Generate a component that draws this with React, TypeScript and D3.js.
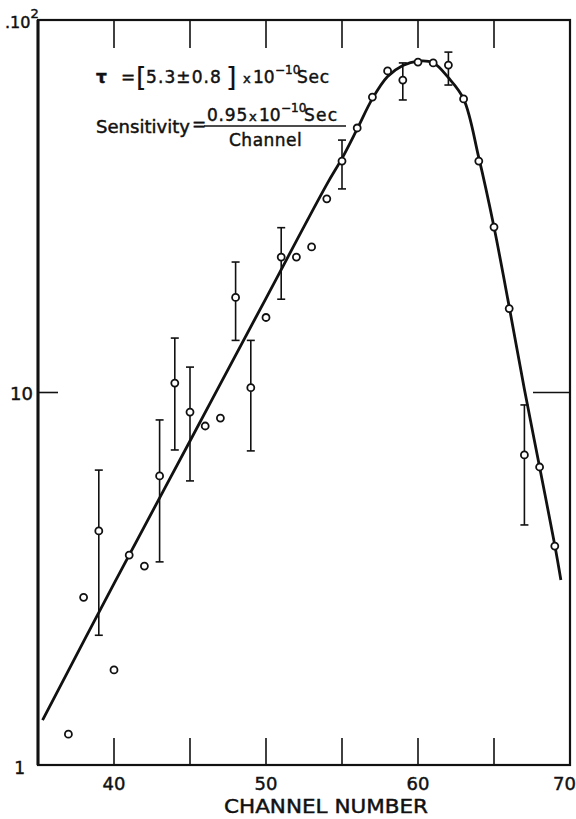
import React, { useEffect, useRef } from 'react';
import * as d3 from 'd3';

// measured points (channel number vs counts)
const channels = [37, 38, 39, 40, 41, 42, 43, 44, 45, 46, 47, 48, 49, 50, 51, 52, 53, 54, 55, 56, 57, 58, 59, 60, 61, 62, 63, 64, 65, 66, 67, 68, 69];
const counts = [1.21, 2.82, 4.25, 1.8, 3.66, 3.42, 5.97, 10.6, 8.86, 8.13, 8.54, 18.0, 10.3, 15.9, 23.1, 23.1, 24.6, 33.1, 41.8, 51.3, 62.1, 73.0, 69.0, 77.1, 76.7, 75.7, 61.4, 41.8, 27.8, 16.8, 6.8, 6.31, 3.87];

// error bars
const errChannels = [39, 43, 44, 45, 48, 49, 51, 55, 59, 62, 67];
const errHigh = [6.19, 8.44, 14.0, 11.7, 22.4, 13.8, 27.7, 47.6, 76.7, 82.0, 9.26];
const errLow = [2.23, 3.51, 7.01, 5.79, 13.8, 6.97, 17.8, 35.2, 61.0, 66.9, 4.41];

// fitted curve
const fitChannels = [35.3, 40, 45, 50, 54, 55, 56, 57, 58, 59, 60, 61, 62, 63, 64, 65, 66, 67, 68, 69, 69.4];
const fitValues = [1.32, 3.07, 7.41, 17.9, 36.2, 42.5, 51.0, 61.5, 70.5, 75.5, 77.6, 76.8, 70.0, 61.4, 42.7, 27.8, 17.0, 10.2, 6.31, 3.89, 3.14];

const xTicks = [40, 45, 50, 55, 60, 65];
const xTickLabels = [40, 50, 60, 70];

const FONT = '"DejaVu Sans", sans-serif';

const App: React.FC = () => {
  const svgRef = useRef<SVGSVGElement>(null);
  const width = 576;
  const height = 819;

  useEffect(() => {
    if (!svgRef.current) return;
    const svg = d3.select(svgRef.current);
    svg.selectAll('*').remove();

    const left = 38, right = 570, top = 20, bottom = 765;

    const x = d3.scaleLinear().domain([35, 70]).range([left, right]);
    const y = d3.scaleLog().domain([1, 100]).range([bottom, top]);

    // heavier lettering, like the hand-inked original
    const ink = (sel: any, size: number) =>
      sel.style('font-family', FONT).style('font-size', `${size}px`)
        .attr('fill', '#111').attr('stroke', '#111').attr('stroke-width', 0.45);

    // frame
    svg.append('rect')
      .attr('x', left).attr('y', top)
      .attr('width', right - left).attr('height', bottom - top)
      .attr('fill', 'none').attr('stroke', '#111').attr('stroke-width', 2.2);
    svg.append('line')
      .attr('x1', left).attr('x2', left)
      .attr('y1', top).attr('y2', bottom)
      .attr('stroke', '#111').attr('stroke-width', 3);

    // ticks on top and bottom
    xTicks.forEach((t) => {
      svg.append('line')
        .attr('x1', x(t)).attr('x2', x(t))
        .attr('y1', bottom).attr('y2', bottom - 27)
        .attr('stroke', '#111').attr('stroke-width', 1.6);
      svg.append('line')
        .attr('x1', x(t)).attr('x2', x(t))
        .attr('y1', top).attr('y2', top + 28)
        .attr('stroke', '#111').attr('stroke-width', 1.6);
    });

    // decade tick at 10
    svg.append('line')
      .attr('x1', left).attr('x2', left + 20)
      .attr('y1', y(10)).attr('y2', y(10))
      .attr('stroke', '#111').attr('stroke-width', 1.6);
    svg.append('line')
      .attr('x1', right - 37).attr('x2', right)
      .attr('y1', y(10)).attr('y2', y(10))
      .attr('stroke', '#111').attr('stroke-width', 1.6);

    // x tick labels
    xTickLabels.forEach((t) => {
      const last = t === 70;
      ink(svg.append('text')
        .attr('x', last ? 576 : x(t)).attr('y', 790)
        .attr('text-anchor', last ? 'end' : 'middle'), 18)
        .text(t);
    });

    ink(svg.append('text')
      .attr('x', 326).attr('y', 813)
      .attr('text-anchor', 'middle')
      .attr('textLength', 204).attr('lengthAdjust', 'spacingAndGlyphs'), 19)
      .text('CHANNEL NUMBER');

    // y labels
    ink(svg.append('text')
      .attr('x', 33).attr('y', y(10) + 7)
      .attr('text-anchor', 'end'), 18)
      .text('10');
    ink(svg.append('text')
      .attr('x', 25).attr('y', y(1) + 9)
      .attr('text-anchor', 'end'), 17)
      .text('1');
    const top10 = ink(svg.append('text').attr('x', 5).attr('y', 28), 16);
    top10.append('tspan').text('.10');
    top10.append('tspan').attr('dy', -10).style('font-size', '13px').text('2');

    // fitted curve
    const line = d3.line<number>()
      .x((_, i) => x(fitChannels[i]))
      .y((d) => y(d))
      .curve(d3.curveCatmullRom.alpha(0.5));
    svg.append('path')
      .datum(fitValues)
      .attr('d', line)
      .attr('fill', 'none')
      .attr('stroke', '#111')
      .attr('stroke-width', 2.8);

    // error bars
    errChannels.forEach((c, i) => {
      const g = svg.append('g').attr('stroke', '#111').attr('stroke-width', 1.6);
      g.append('line')
        .attr('x1', x(c)).attr('x2', x(c))
        .attr('y1', y(errHigh[i])).attr('y2', y(errLow[i]));
      g.append('line')
        .attr('x1', x(c) - 4).attr('x2', x(c) + 4)
        .attr('y1', y(errHigh[i])).attr('y2', y(errHigh[i]));
      g.append('line')
        .attr('x1', x(c) - 4).attr('x2', x(c) + 4)
        .attr('y1', y(errLow[i])).attr('y2', y(errLow[i]));
    });

    // points
    svg.selectAll('circle.pt')
      .data(counts)
      .enter()
      .append('circle')
      .attr('class', 'pt')
      .attr('cx', (_, i) => x(channels[i]))
      .attr('cy', (d) => y(d))
      .attr('r', 3.5)
      .attr('fill', '#fff')
      .attr('stroke', '#111')
      .attr('stroke-width', 1.8);

    // annotation: tau
    const tau = ink(svg.append('text').attr('y', 83), 17);
    tau.append('tspan').attr('x', 96).style('font-weight', 'bold').text('τ');
    tau.append('tspan').attr('x', 121).text('=');
    tau.append('tspan').attr('x', 136).attr('dy', 3).style('font-size', '27px').attr('stroke-width', 0.2).text('[');
    tau.append('tspan').attr('x', 146).attr('dy', -3).attr('letter-spacing', '1.1').text('5.3±0.8');
    tau.append('tspan').attr('x', 226).attr('dy', 3).style('font-size', '27px').attr('stroke-width', 0.2).text(']');
    tau.append('tspan').attr('x', 243).attr('dy', -3).style('font-size', '13px').text('x');
    tau.append('tspan').attr('x', 253).text('10');
    tau.append('tspan').attr('x', 275).attr('dy', -9).style('font-size', '12px').text('−10');
    tau.append('tspan').attr('x', 297).attr('dy', 9).attr('letter-spacing', '0.8').text('Sec');

    // annotation: sensitivity
    ink(svg.append('text')
      .attr('x', 96).attr('y', 133)
      .attr('textLength', 94).attr('lengthAdjust', 'spacingAndGlyphs'), 17)
      .text('Sensitivity');
    ink(svg.append('text').attr('x', 192).attr('y', 130), 17).text('=');
    const num = ink(svg.append('text').attr('y', 121), 17);
    num.append('tspan').attr('x', 207).attr('letter-spacing', '0.8').text('0.95');
    num.append('tspan').attr('x', 249).style('font-size', '13px').text('x');
    num.append('tspan').attr('x', 259).text('10');
    num.append('tspan').attr('x', 281).attr('dy', -9).style('font-size', '12px').text('−10');
    num.append('tspan').attr('x', 304).attr('dy', 9).attr('letter-spacing', '1.2').text('Sec');
    svg.append('line')
      .attr('x1', 204).attr('x2', 346)
      .attr('y1', 126).attr('y2', 126)
      .attr('stroke', '#111').attr('stroke-width', 1.6);
    ink(svg.append('text').attr('x', 229).attr('y', 146), 17)
      .attr('letter-spacing', '0.5')
      .text('Channel');
  }, []);

  return (
    <svg
      ref={svgRef}
      width={width}
      height={height}
      style={{ position: 'absolute', left: 0, top: 0, background: '#fff' }}
    />
  );
};

export default App;
